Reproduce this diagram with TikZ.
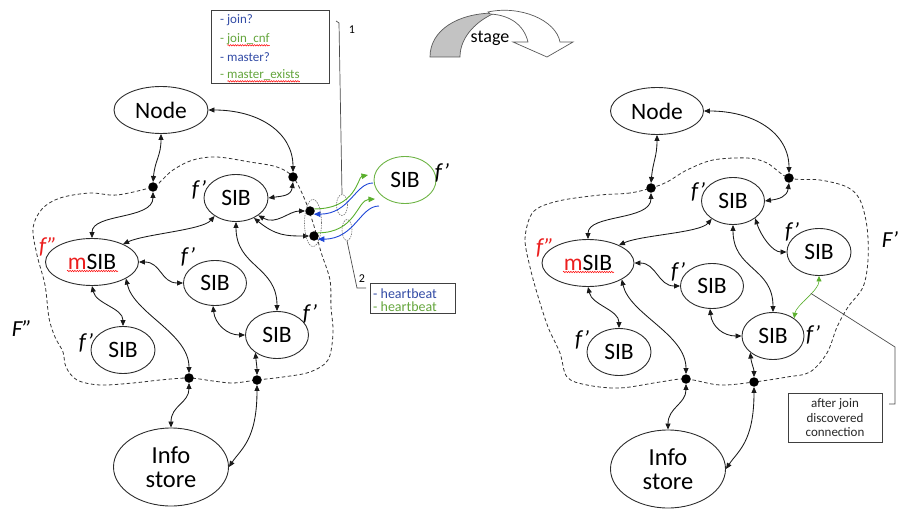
\documentclass[tikz,border=0pt]{standalone}
\usepackage{fontspec}
\setmainfont{Carlito}
\usetikzlibrary{arrows.meta,shapes.geometric,decorations.pathmorphing}
\definecolor{lineg}{RGB}{45,45,45}
\definecolor{txtblue}{RGB}{50,75,165}
\definecolor{txtgreen}{RGB}{100,165,60}
\definecolor{arrblue}{RGB}{30,70,215}
\definecolor{arrgreen}{RGB}{90,175,45}
\definecolor{sibgreen}{RGB}{110,180,70}
\definecolor{fred}{RGB}{235,30,30}
\definecolor{stagegray}{RGB}{195,195,195}
\tikzset{
  ell/.style={ellipse, draw=lineg, line width=0.9pt, inner sep=0pt, font=\fontsize{23.5}{25}\selectfont},
  sib/.style={ell, minimum width=63pt, minimum height=47pt},
  bigell/.style={ell, minimum width=94pt, minimum height=47pt},
  infoell/.style={ell, minimum width=115pt, minimum height=78pt, align=center, font=\fontsize{24.5}{24}\selectfont},
  bullet/.style={circle, fill=black, inner sep=0pt, minimum size=9.5pt},
  tipA/.tip={Triangle[length=6pt,width=5pt]},
  lnk/.style={line width=0.85pt, draw=black!90, tipA-tipA},
  fence/.style={draw=black!80, line width=0.8pt, dash pattern=on 3.5pt off 2.5pt},
  flab/.style={font=\fontsize{23}{25}\selectfont\itshape, inner sep=0pt},
  garr/.style={draw=arrgreen, line width=0.9pt, -{Triangle[length=6.5pt,width=5.5pt]}},
  barr/.style={draw=arrblue, line width=0.9pt, -{Triangle[length=6.5pt,width=5.5pt]}},
  dotell/.style={ellipse, draw=black!55, line width=0.6pt, dash pattern=on 1.5pt off 1pt, inner sep=0pt},
  callout/.style={draw=black!70, line width=0.7pt},
  boxtxt/.style={font=\fontsize{13}{14}\selectfont, inner sep=0pt, anchor=base west},
  spell/.style={draw=red, line width=0.5pt, decorate, decoration={snake, amplitude=0.7pt, segment length=2.4pt}},
  stagestyle/.style={draw=black!65, line width=0.7pt},
}
\begin{document}
\begin{tikzpicture}[x=1pt,y=-1pt]
\useasboundingbox (0,0) rectangle (899,513);

% ---------------- fences (dashed clouds)
\draw[fence] plot[smooth cycle, tension=0.55] coordinates {
(153,187) (117,195) (90,193) (60,198) (42,209) (33,228) (37,255) (45,285) (49,318) (55,337) (63,352) (66,367) (77,380) (100,385) (133,383) (160,380) (189,378) (213,381) (233,383) (257,380) (283,377) (310,372) (328,360) (333,333) (331,307) (330,280) (321,252) (314,226) (305,200) (293,177) (277,167) (250,162) (217,157) (193,160) (173,170) (160,182)};
\draw[fence] plot[smooth cycle, tension=0.55] coordinates {
(651,188) (630,193) (600,195) (563,200) (540,207) (530,217) (525,240) (530,267) (537,293) (548,327) (560,353) (567,377) (587,385) (620,388) (660,382) (686,379) (720,385) (754,382) (787,377) (810,372) (827,353) (837,327) (848,307) (863,287) (868,260) (867,227) (860,200) (847,187) (820,180) (789,178) (767,163) (747,158) (713,160) (687,170) (667,182)};

% ---------------- left diagram nodes
\node[bigell] (Lnode) at (161,110) {Node};
\node[sib, minimum width=64pt] (Ls1) at (236,198) {SIB};
\node[bigell, minimum width=93pt] (Lm) at (92,262) {{\color{fred}m}SIB};
\node[sib, minimum height=45pt] (Ls2) at (215,283) {SIB};
\node[sib] (Ls3) at (277,335) {SIB};
\node[sib, minimum width=64pt] (Ls4) at (123,350) {SIB};
\node[infoell] (Linfo) at (171,467) {Info\\store};
\node[sib, minimum width=62pt, draw=sibgreen] (Lg) at (405,180) {SIB};
\node[bullet] (Lb1) at (153,187) {};
\node[bullet] (Lb2) at (293,177) {};
\node[bullet] (Lb3) at (189,378) {};
\node[bullet] (Lb4) at (257,380) {};
\node[bullet] (Lr1) at (310,211) {};
\node[bullet] (Lr2) at (314,236) {};

\draw[spell] ([xshift=-25pt,yshift=-9pt]Lm.center) -- ([xshift=26pt,yshift=-9pt]Lm.center);

\node[flab] (Lf1) at (199,190) {f’};
\node[flab, text=fred] (Lf2) at (48,247) {f”};
\node[flab] (Lf3) at (188,257) {f’};
\node[flab] (Lf4) at (310,314) {f’};
\node[flab] (Lf5) at (86,343) {f’};
\node[flab] (LF) at (22,329) {F”};
\node[flab] (Lf6) at (442,173) {f’};

% left connectors
\draw[lnk] (Lnode.south) .. controls +(0,22) and +(2,-22) .. (Lb1.north);
\draw[lnk] (Lnode.east) .. controls +(50,0) and +(0,-40) .. (Lb2.north);
\draw[lnk] (Lb2.south) .. controls +(-2,14) and +(14,-2) .. (Ls1.east);
\draw[lnk] (Lb1.south) .. controls +(0,28) and +(0,-25) .. (Lm.north);
\draw[lnk] (Ls1.220) .. controls +(-12,14) and +(22,-10) .. (Lm.30);
\draw[lnk] (Lm.east) .. controls +(22,0) and +(-22,0) .. (Ls2.west);
\draw[lnk] (Ls1.south) .. controls +(0,45) and +(0,-45) .. (Ls3.north);
\draw[lnk] (Ls2.265) .. controls +(2,18) and +(-18,0) .. (Ls3.west);
\draw[lnk] (Lm.south) .. controls +(4,18) and +(0,-18) .. (Ls4.north);
\draw[lnk] (Lm.-26) .. controls +(8,35) and +(0,-40) .. (Lb3.north);
\draw[lnk] (Ls3.219) .. controls +(1,10) and +(0,-8) .. (Lb4.north);
\draw[lnk] (Lb3.south) .. controls +(0,20) and +(0,-22) .. (Linfo.north);
\draw[lnk] (Lb4.south) .. controls +(0,55) and +(12,-18) .. (Linfo.east);
\draw[lnk] (Ls1.-38) .. controls +(18,10) and +(-16,0) .. (Lr1.west);
\draw[lnk] (Ls1.-48) .. controls +(22,18) and +(-22,0) .. (Lr2.west);

% dotted ellipses
\node[dotell, minimum width=17pt, minimum height=47pt] (Dbig) at (313,223) {};
\node[dotell, minimum width=11pt, minimum height=21pt] (D1) at (342,205) {};
\node[dotell, minimum width=10pt, minimum height=21pt] (D2) at (347,230) {};

% green / blue messages
\coordinate (g1e) at (368,175);
\coordinate (b1s) at (373,183);
\coordinate (g2e) at (375,199);
\coordinate (b2s) at (379,206);
\draw[garr] (Lr1.25) .. controls (356,209) and (358,177) .. (g1e);
\draw[barr] (b1s) .. controls (355,183) and (350,214) .. (Lr1.-40);
\draw[garr] (Lr2.40) .. controls (356,233) and (357,200) .. (g2e);
\draw[barr] (b2s) .. controls (360,206) and (355,239) .. (Lr2.-40);

% callouts
\coordinate (c1top) at (336,21);
\coordinate (c1bend) at (339,23);
\draw[callout] (c1top) -- (c1bend) -- (D1.north);
\node[inner sep=0pt, font=\fontsize{12}{12}\selectfont] (n1) at (352,30) {1};
\coordinate (c2bend) at (357,288);
\coordinate (c2end) at (366,288);
\draw[callout] (D2.south) -- (c2bend) -- (c2end);
\node[inner sep=0pt, font=\fontsize{12}{12}\selectfont] (n2) at (362,279) {2};

% top message box
\node[draw=black!75, line width=0.8pt, minimum width=118pt, minimum height=73pt, inner sep=0pt] (topbox) at (270,46.5) {};
\node[boxtxt, text=txtblue] (tb1) at (220,24) {- join?};
\node[boxtxt, text=txtgreen] (tb2) at (220,43) {- join\_cnf};
\node[boxtxt, text=txtblue] (tb3) at (220,61.5) {- master?};
\node[boxtxt, text=txtgreen] (tb4) at (220,79) {- master\_exists};
\draw[spell] ([xshift=7.5pt,yshift=-2.3pt]tb2.base west) -- ([yshift=-2.3pt]tb2.base east);
\draw[spell] ([xshift=7.5pt,yshift=-2.3pt]tb4.base west) -- ([yshift=-2.3pt]tb4.base east);

% heartbeat box
\node[draw=black!75, line width=0.8pt, minimum width=85pt, minimum height=30pt, inner sep=0pt] (hbbox) at (412.5,298) {};
\node[boxtxt, font=\fontsize{14}{14}\selectfont, text=txtblue] (hb1) at (373,298) {- heartbeat};
\node[boxtxt, font=\fontsize{14}{14}\selectfont, text=txtgreen] (hb2) at (373,311) {- heartbeat};

% ---------------- stage arrow
\draw[stagestyle, fill=stagegray] (430,57) .. controls (430,30) and (458,13) .. (495,13) .. controls (478,20) and (460,36) .. (460,57) -- cycle;
\draw[stagestyle, fill=white] (488,12) .. controls (520,5) and (556,20) .. (560,42) -- (573,42) -- (547,57) -- (513,42) -- (528,42) .. controls (524,25) and (510,15) .. (490,14) -- cycle;
\node[inner sep=0pt, font=\fontsize{18}{18}\selectfont] (stage) at (490,38) {stage};

% ---------------- right diagram nodes
\node[bigell, minimum width=93pt] (Rnode) at (657,111) {Node};
\node[sib] (Rs1) at (733,201) {SIB};
\node[sib, minimum width=64pt] (Rs5) at (819,252) {SIB};
\node[bigell, minimum width=92pt] (Rm) at (588,263) {{\color{fred}m}SIB};
\node[sib, minimum height=45pt] (Rs2) at (712,286) {SIB};
\node[sib, minimum width=62pt] (Rs3) at (773,336) {SIB};
\node[sib, minimum width=64pt] (Rs4) at (619,352) {SIB};
\node[infoell] (Rinfo) at (668,469) {Info\\store};
\node[bullet] (Rb1) at (651,188) {};
\node[bullet] (Rb2) at (789,178) {};
\node[bullet] (Rb3) at (686,379) {};
\node[bullet] (Rb4) at (754,382) {};

\draw[spell] ([xshift=-25pt,yshift=-9pt]Rm.center) -- ([xshift=26pt,yshift=-9pt]Rm.center);

\node[flab] (Rf1) at (698,192) {f’};
\node[flab] (Rf2) at (792,232) {f’};
\node[flab] (RF) at (890,240) {F’};
\node[flab, text=fred] (Rf3) at (545,248) {f”};
\node[flab] (Rf4) at (678,272) {f’};
\node[flab] (Rf5) at (813,335) {f’};
\node[flab] (Rf6) at (582,340) {f’};

% right connectors
\draw[lnk] (Rnode.south) .. controls +(0,22) and +(2,-22) .. (Rb1.north);
\draw[lnk] (Rnode.east) .. controls +(50,0) and +(0,-40) .. (Rb2.north);
\draw[lnk] (Rb2.south) .. controls +(-2,14) and +(14,-2) .. (Rs1.east);
\draw[lnk] (Rb1.south) .. controls +(0,28) and +(0,-25) .. (Rm.north);
\draw[lnk] (Rs1.220) .. controls +(-12,14) and +(22,-10) .. (Rm.30);
\draw[lnk] (Rm.east) .. controls +(22,0) and +(-22,0) .. (Rs2.west);
\draw[lnk] (Rs1.south) .. controls +(0,45) and +(0,-45) .. (Rs3.north);
\draw[lnk] (Rs2.265) .. controls +(2,18) and +(-18,0) .. (Rs3.west);
\draw[lnk] (Rm.south) .. controls +(4,18) and +(0,-18) .. (Rs4.north);
\draw[lnk] (Rm.-26) .. controls +(8,35) and +(0,-40) .. (Rb3.north);
\draw[lnk] (Rs3.216) .. controls +(1,10) and +(0,-8) .. (Rb4.north);
\draw[lnk] (Rb3.south) .. controls +(0,20) and +(0,-22) .. (Rinfo.north);
\draw[lnk] (Rb4.south) .. controls +(0,55) and +(12,-18) .. (Rinfo.east);
\draw[lnk] (Rs1.-38) .. controls +(6,18) and +(-14,0) .. (Rs5.west);

% discovered connection
\draw[line width=0.6pt, draw=arrgreen, {Triangle[length=5.5pt,width=5pt]}-{Triangle[length=5.5pt,width=5pt]}]
  (Rs5.south) .. controls +(0,14.5) and +(2,-13) .. coordinate[pos=0.4] (cg) (Rs3.40);
\coordinate (c3a) at (895,347);
\coordinate (c3b) at (895,404);
\coordinate (c3c) at (889,404);
\draw[callout] (cg) -- (c3a) -- (c3b) -- (c3c);
\node[draw=black!75, line width=0.8pt, minimum width=94pt, minimum height=49pt, inner sep=0pt] (djbox) at (835,417.5) {};
\node[align=center, inner sep=0pt, text=black!85, font=\fontsize{13}{14.5}\selectfont] (djtxt) at (835,418) {after join\\discovered\\connection};
\end{tikzpicture}
\end{document}
